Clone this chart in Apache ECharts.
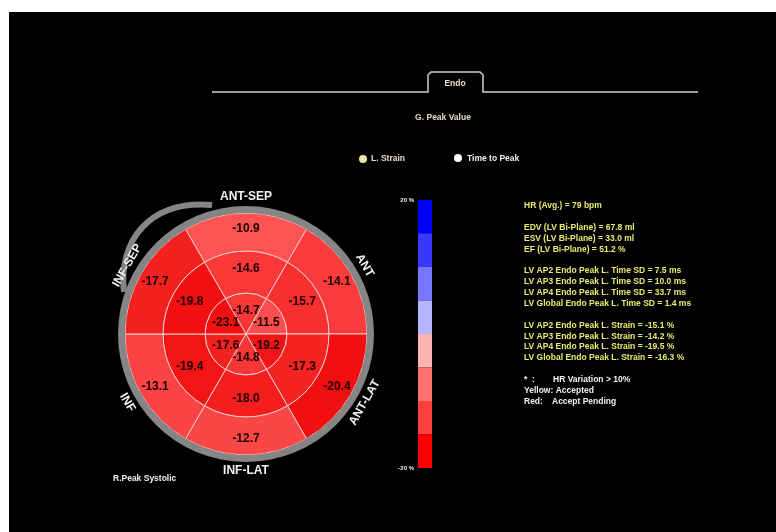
<!DOCTYPE html>
<html>
<head>
<meta charset="utf-8">
<script src="https://cdn.jsdelivr.net/npm/echarts@6/dist/echarts.min.js"></script>
<style>
  html, body { margin: 0; padding: 0; background: #ffffff; }
  #panel { position: absolute; left: 9px; top: 12px; right: 0; bottom: 0; background: #000000; }
  #chart { position: absolute; left: 0; top: 0; width: 776px; height: 532px; }
</style>
</head>
<body>
<div id="panel"></div>
<div id="chart"></div>
<script>
// Segment order: clockwise from the top (anterior-septal) wall
const segments = ['ANT-SEP', 'ANT', 'ANT-LAT', 'INF-LAT', 'INF', 'INF-SEP'];
// Peak longitudinal strain (%) per ring
const basalStrain  = [-10.9, -14.1, -20.4, -12.7, -13.1, -17.7];
const midStrain    = [-14.6, -15.7, -17.3, -18.0, -19.4, -19.8];
const apicalStrain = [-14.7, -11.5, -19.2, -14.8, -17.6, -23.1];

// Colour scale bands (%), top to bottom
const bandEdges  = [20, 15, 10, 5, 0, -5, -10, -15, -20];
const bandColors = ['#0000ff', '#3838ff', '#7676ff', '#b4b4ff', '#ffb4b4', '#ff7272', '#ff3e3e', '#ff0000'];
const scaleTicks = [20, -20];

// Report lines: [text, colour key]; empty text = spacer
const reportLines = [
  ['HR (Avg.) = 79 bpm', 'y'],
  ['', ''],
  ['EDV (LV Bi-Plane) = 67.8 ml', 'y'],
  ['ESV (LV Bi-Plane) = 33.0 ml', 'y'],
  ['EF (LV Bi-Plane) = 51.2 %', 'y'],
  ['', ''],
  ['LV AP2 Endo Peak L. Time SD = 7.5 ms', 'y'],
  ['LV AP3 Endo Peak L. Time SD = 10.0 ms', 'y'],
  ['LV AP4 Endo Peak L. Time SD = 33.7 ms', 'y'],
  ['LV Global Endo Peak L. Time SD = 1.4 ms', 'y'],
  ['', ''],
  ['LV AP2 Endo Peak L. Strain = -15.1 %', 'y'],
  ['LV AP3 Endo Peak L. Strain = -14.2 %', 'y'],
  ['LV AP4 Endo Peak L. Strain = -19.5 %', 'y'],
  ['LV Global Endo Peak L. Strain = -16.3 %', 'y'],
  ['', ''],
  ['*  :', 'w'],
  ['Yellow: Accepted', 'w'],
  ['Red:', 'w']
];

const CX = 246, CY = 334;          // bullseye centre
const R_APEX = 41, R_MID = 83, R_BASE = 121, R_RING = 128;
const LABEL_R = 137;

const FONT = '"Liberation Sans", Arial, sans-serif';
const YELLOW = '#ebeb6c', WHITE = '#f2f2f2', BEIGE = '#eadcc0';

const rings = [apicalStrain, midStrain, basalStrain];
const datasets = rings.map(r => ({ source: segments.map((s, i) => [s, 1, r[i]]) }));
const radii = [[0, R_APEX], [R_APEX, R_MID], [R_MID, R_BASE]];

const ringSeries = radii.map((rad, k) => ({
  type: 'pie',
  datasetIndex: k,
  center: [CX, CY],
  radius: rad,
  startAngle: 120,
  clockwise: true,
  avoidLabelOverlap: false,
  silent: true,
  encode: { itemName: 0, value: 1 },
  itemStyle: { borderColor: '#f4cccc', borderWidth: 1 },
  label: {
    show: true,
    position: 'inside',
    formatter: p => p.value[2].toFixed(1),
    color: '#1c0000',
    fontFamily: FONT,
    fontWeight: 'bold',
    fontSize: 12
  },
  labelLayout: { hideOverlap: false },
  labelLine: { show: false },
  emphasis: { disabled: true }
}));

// Grey outer rim
const rimSeries = {
  type: 'pie',
  center: [CX, CY],
  radius: [R_BASE, R_RING],
  silent: true,
  label: { show: false },
  labelLine: { show: false },
  itemStyle: { color: '#858585' },
  emphasis: { disabled: true },
  data: [{ value: 1, name: 'rim' }]
};

// Colour scale drawn as stacked rectangles on a value axis
const scaleSeries = {
  type: 'custom',
  xAxisIndex: 0,
  yAxisIndex: 0,
  silent: true,
  encode: { x: 0, y: [1, 2] },
  data: bandColors.map((c, i) => ({ value: [0, bandEdges[i + 1], bandEdges[i]], itemStyle: { color: c } })),
  renderItem: (params, api) => {
    const lo = api.coord([0, api.value(1)]);
    const hi = api.coord([0, api.value(2)]);
    const w = api.size([1, 0])[0];
    return {
      type: 'rect',
      shape: { x: lo[0] - w / 2, y: hi[1], width: w, height: lo[1] - hi[1] },
      style: { fill: api.visual('color') }
    };
  }
};

// Wall names around the rim
const wallAngles = [90, 30, -30, -90, -150, 150];
const wallRot    = [0, -60, 60, 0, -60, 60];
const wallLabels = segments.map((s, i) => {
  const a = wallAngles[i] * Math.PI / 180;
  return {
    type: 'text',
    x: CX + LABEL_R * Math.cos(a),
    y: CY - LABEL_R * Math.sin(a),
    rotation: wallRot[i] * Math.PI / 180,
    z: 10,
    style: { text: s, fill: WHITE, font: 'bold 12px ' + FONT, align: 'center', verticalAlign: 'middle' }
  };
});

const REPORT_X = 524, REPORT_Y = 206, REPORT_LH = 10.85;
const REPORT_FONT = 'bold 8.5px ' + FONT;
const reportText = [];
reportLines.forEach((ln, i) => {
  if (!ln[0]) return;
  reportText.push({
    type: 'text', x: REPORT_X, y: REPORT_Y + i * REPORT_LH,
    style: { text: ln[0], fill: ln[1] === 'y' ? YELLOW : WHITE, font: REPORT_FONT, verticalAlign: 'middle' }
  });
});
// second column of the legend notes
const noteY = REPORT_Y + 16 * REPORT_LH;
reportText.push(
  { type: 'text', x: 553, y: noteY, style: { text: 'HR Variation > 10%', fill: WHITE, font: REPORT_FONT, verticalAlign: 'middle' } },
  { type: 'text', x: 552, y: noteY + 2 * REPORT_LH, style: { text: 'Accept Pending', fill: WHITE, font: REPORT_FONT, verticalAlign: 'middle' } }
);

const chart = echarts.init(document.getElementById('chart'), null, { renderer: 'canvas' });
chart.setOption({
  animation: false,
  backgroundColor: 'transparent',
  dataset: datasets,
  visualMap: {
    type: 'continuous',
    show: false,
    min: -20,
    max: 20,
    dimension: 2,
    seriesIndex: [0, 1, 2],
    inRange: { color: ['#f20f0f', '#ff5a5a', '#ffdada', '#7272ff', '#0000ff'] }
  },
  grid: { left: 418, top: 200, width: 14, height: 268 },
  xAxis: { type: 'category', data: [''], show: false },
  yAxis: {
    type: 'value', min: -20, max: 20, interval: 5,
    axisLine: { show: false }, axisTick: { show: false }, splitLine: { show: false },
    axisLabel: {
      margin: 4,
      color: WHITE, fontFamily: FONT, fontWeight: 'bold', fontSize: 6,
      formatter: v => scaleTicks.indexOf(v) >= 0 ? v + ' %' : ''
    }
  },
  series: ringSeries.concat([rimSeries, scaleSeries]),
  graphic: [
    // tab header line
    {
      type: 'polyline', silent: true,
      shape: { points: [[212, 92], [428, 92], [428, 75], [431, 72], [480, 72], [483, 75], [483, 92], [698, 92]] },
      style: { stroke: '#cfcfcf', lineWidth: 1.5, fill: null }
    },
    { type: 'text', x: 455, y: 84, style: { text: 'Endo', fill: BEIGE, font: 'bold 8.5px ' + FONT, align: 'center', verticalAlign: 'middle' } },
    { type: 'text', x: 443, y: 118, style: { text: 'G. Peak Value', fill: BEIGE, font: 'bold 8.5px ' + FONT, align: 'center', verticalAlign: 'middle' } },
    // radio buttons
    { type: 'circle', shape: { cx: 363, cy: 159, r: 4 }, style: { fill: '#f3e4a4' } },
    { type: 'text', x: 371, y: 159, style: { text: 'L. Strain', fill: BEIGE, font: 'bold 8.5px ' + FONT, verticalAlign: 'middle' } },
    { type: 'circle', shape: { cx: 458, cy: 158, r: 4 }, style: { fill: '#ffffff' } },
    { type: 'text', x: 467, y: 159, style: { text: 'Time to Peak', fill: WHITE, font: 'bold 8.5px ' + FONT, verticalAlign: 'middle' } },
    // extra rim arc at the septal side
    {
      type: 'bezierCurve', silent: true, z: 5,
      shape: { x1: 212, y1: 205, cpx1: 150, cpy1: 200, cpx2: 118, cpy2: 240, x2: 124, y2: 292 },
      style: { stroke: '#858585', lineWidth: 6, fill: null }
    },
    { type: 'text', x: 113, y: 479, style: { text: 'R.Peak Systolic', fill: WHITE, font: 'bold 8.5px ' + FONT, verticalAlign: 'middle' } }
  ].concat(wallLabels, reportText)
});
</script>
</body>
</html>
